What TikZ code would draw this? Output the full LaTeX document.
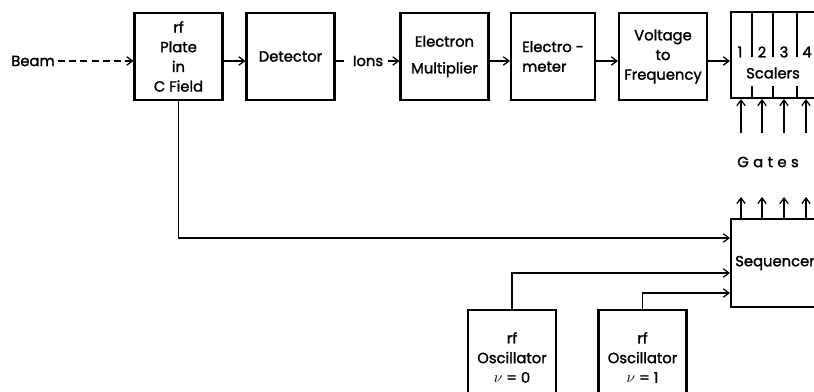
\documentclass[tikz,border=0pt]{standalone}
\usepackage{fontspec}
\setmainfont{Poppins}[UprightFeatures={FakeBold=1.6}]
\usetikzlibrary{arrows.meta, positioning, calc}

\begin{document}
\begin{tikzpicture}[x=0.025cm,y=-0.025cm,>={Straight Barb[length=4pt,width=6pt]},block/.style={rectangle,draw,line width=1.5pt,minimum width=2.2cm,minimum height=2.18cm,align=center,inner sep=1pt,font=\fontsize{10.5}{14}\selectfont},link/.style={line width=0.9pt},tag/.style={inner sep=2pt,font=\fontsize{10.5}{14}\selectfont}]
\useasboundingbox (0,0) rectangle (814,392);
\clip (0,0) rectangle (814,392);
\node[block] (plate) at (178.5,56.5) {rf\\Plate\\in\\C Field};
\node[block] (det) at (290.5,56.5) {Detector};
\node[block] (mult) at (444.5,56.5) {Electron\\[5pt]Multiplier};
\node[block,minimum width=2.1cm,align=left] (meter) at (553,56.5) {Electro -\\meter};
\node[block] (vtof) at (663,56.5) {Voltage\\to\\Frequency};
\node[block,minimum height=2.15cm] (scl) at (775,55) {};
\node[block,minimum height=2.2cm] (seq) at (775,263) {Sequencer};
\node[block,minimum height=2.375cm] (osc0) at (512,357.5) {rf\\Oscillator\\$\nu$ = 0};
\node[block,minimum height=2.375cm] (osc1) at (642.5,357.5) {rf\\Oscillator\\$\nu$ = 1};
\node[tag] (beam) at (33,61) {Beam};
\node[tag,inner xsep=3pt] (ions) at (368,61) {Ions};
\node[tag] (gates) at (768,162) {\addfontfeature{LetterSpace=30}Gates};
% scaler channels
\node[tag] (s1) at (740,52) {1};
\node[tag] (s2) at (762,52) {2};
\node[tag] (s3) at (784,52) {3};
\node[tag] (s4) at (807,52) {4};
\node[tag] (sname) at (773,73) {Scalers};
\foreach \x in {752,773,797} {
  \draw[link] (\x,12) -- (\x,57);
  \draw[link] (\x,86) -- (\x,98);
}
% main chain
\draw[link,dash pattern=on 5pt off 3pt,->] (beam) -- (plate.west |- beam);
\draw[link,->] (plate.east |- beam) -- (det.west |- beam);
\draw[link] (det.east |- ions) -- +(8,0);
\draw[link,->] (ions) -- (mult.west |- ions);
\draw[link,->] (mult.east |- beam) -- (meter.west |- beam);
\draw[link,->] (meter.east |- beam) -- (vtof.west |- beam);
\draw[link,->] (vtof.east |- beam) -- (scl.west |- beam);
% gates
\foreach \x/\i in {741/1,762/2,784/3,806/4} {
  \coordinate (g\i) at (\x,133);
  \coordinate (q\i) at (\x,197);
  \draw[link,->] (g\i) -- (g\i |- scl.south);
  \draw[link,->] (q\i |- seq.north) -- (q\i);
}
% sequencer inputs
\draw[link,->] (plate.south) |- ($(seq.west)+(0,-25)$);
\draw[link,->] (osc0.north) |- ($(seq.west)+(0,10)$);
\draw[link,->] (osc1.north) |- ($(seq.west)+(0,30)$);
\end{tikzpicture}
\end{document}
